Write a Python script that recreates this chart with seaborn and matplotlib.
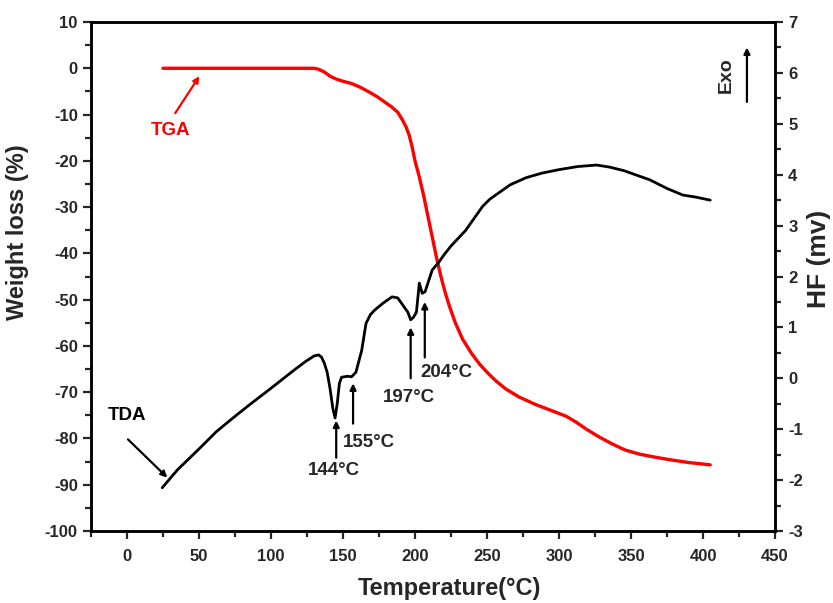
import matplotlib
matplotlib.use("Agg")
import matplotlib.pyplot as plt
from matplotlib.ticker import AutoMinorLocator
import seaborn as sns
import pandas as pd

# TGA data (weight loss %)
tga_T = [25, 130, 133, 137, 141, 145, 150, 156, 162, 168, 174, 179, 184, 188, 191,
         194, 196, 198, 200, 203, 206, 209, 212, 215, 218, 221, 224, 228, 233, 239,
         245, 251, 256, 263, 272, 284, 295, 305, 312, 319, 328, 337, 346, 356, 366,
         377, 390, 405]
tga_W = [0, 0, -0.2, -0.8, -1.7, -2.3, -2.8, -3.3, -4.1, -5.1, -6.2, -7.3, -8.4, -9.5, -11,
         -12.8, -14.5, -17, -20, -23.5, -27.5, -32, -36.5, -41, -45, -48.5, -51.5, -55, -58.5, -61.5,
         -64, -66, -67.5, -69.3, -71, -72.7, -74, -75.2, -76.5, -78, -79.7, -81.2, -82.5, -83.4, -84,
         -84.6, -85.2, -85.7]

# TDA data (heat flow, mV)
hf_T = [24.5, 35, 51, 62, 74, 86, 98, 107, 116, 124, 130, 133, 135, 137, 139,
        141, 143, 144.5, 146, 147.5, 149, 153, 156, 159, 163, 166, 169, 172, 178,
        184, 188, 190, 193, 195, 197, 199, 201, 203, 205, 207, 212, 216.5, 220,
        225, 230, 235, 240, 247, 252, 258, 266, 277, 288, 300, 313, 326, 335,
        345, 354, 363, 375, 386, 395, 405]
hf_V = [-2.15, -1.8, -1.36, -1.05, -0.77, -0.5, -0.24, -0.04, 0.16, 0.33, 0.44, 0.46, 0.42, 0.3, 0.12,
        -0.2, -0.6, -0.78, -0.5, -0.1, 0.02, 0.04, 0.03, 0.12, 0.55, 1.08, 1.25, 1.34, 1.48,
        1.6, 1.58, 1.5, 1.38, 1.3, 1.15, 1.2, 1.3, 1.87, 1.67, 1.7, 2.13, 2.28, 2.42,
        2.6, 2.75, 2.9, 3.1, 3.38, 3.52, 3.64, 3.8, 3.94, 4.03, 4.1, 4.16, 4.19, 4.15,
        4.08, 3.99, 3.9, 3.73, 3.6, 3.56, 3.5]

x_ticks = [0, 50, 100, 150, 200, 250, 300, 350, 400, 450]
left_ticks = list(range(-100, 11, 10))
right_ticks = list(range(-3, 8))

peak_labels = ["144°C", "155°C", "197°C", "204°C"]

sns.set_style("ticks")
plt.rcParams["font.family"] = ["Liberation Sans", "DejaVu Sans"]
plt.rcParams["font.weight"] = "bold"
plt.rcParams["axes.unicode_minus"] = False

fig = plt.figure(figsize=(8.33, 6.03), dpi=100)
ax = fig.add_axes([0.1092, 0.1194, 0.8212, 0.8441])
ax2 = ax.twinx()

tga_df = pd.DataFrame({"T": tga_T, "W": tga_W})
hf_df = pd.DataFrame({"T": hf_T, "HF": hf_V})

sns.lineplot(data=tga_df, x="T", y="W", ax=ax, color="#ff0000", lw=2.4, sort=False)
sns.lineplot(data=hf_df, x="T", y="HF", ax=ax2, color="black", lw=2.0, sort=False)

ax.set_xlim(-25, 450)
ax.set_ylim(-100, 10)
ax2.set_ylim(-3, 7)
ax.set_xticks(x_ticks)
ax.set_yticks(left_ticks)
ax2.set_yticks(right_ticks)
ax.xaxis.set_minor_locator(AutoMinorLocator(2))
ax.yaxis.set_minor_locator(AutoMinorLocator(2))
ax2.yaxis.set_minor_locator(AutoMinorLocator(2))

for a in (ax, ax2):
    for s in a.spines.values():
        s.set_visible(True)
        s.set_linewidth(1.8)
        s.set_color("black")
    a.tick_params(which="major", length=6, width=1.6, labelsize=12, direction="out")
    a.tick_params(which="minor", length=4, width=1.6, direction="out")
ax.tick_params(axis="x", pad=7)
for lab in ax.get_xticklabels() + ax.get_yticklabels() + ax2.get_yticklabels():
    lab.set_fontweight("bold")

ax.set_xlabel("Temperature(°C)", fontsize=17, fontweight="bold")
ax.set_ylabel("Weight loss (%)", fontsize=17, fontweight="bold")
ax2.set_ylabel("HF (mv)", fontsize=19, fontweight="bold")
ax.xaxis.set_label_coords(0.524, -0.090)
ax.yaxis.set_label_coords(-0.090, 0.587)
ax2.yaxis.set_label_coords(1.047, 0.535)

arrow = dict(arrowstyle="-|>", color="black", lw=1.6, mutation_scale=9, shrinkA=0, shrinkB=0)
red_arrow = dict(arrowstyle="-|>", color="#ff0000", lw=1.6, mutation_scale=9, shrinkA=0, shrinkB=0)

# TGA label
ax.annotate("", xy=(50.3, -1.7), xytext=(33.5, -9.7), arrowprops=red_arrow)
ax.text(30, -13.4, "TGA", color="#ff0000", fontsize=13.5, fontweight="bold",
        ha="center", va="center")

# TDA label
ax.text(0, -75, "TDA", color="black", fontsize=13.5, fontweight="bold",
        ha="center", va="center")
ax2.annotate("", xy=(28, -1.95), xytext=(0.7, -1.2), arrowprops=arrow)

# Peak arrows
peak_heads = [(145.3, -0.83), (157, -0.1), (197, 1.0), (206.8, 1.5)]
peak_tails = [(145.3, -1.56), (157, -0.89), (197, 0.0), (206.8, 0.41)]
peak_text = [(144, -1.81), (168, -1.26), (195.6, -0.37), (222, 0.12)]
for lab, h, t, p in zip(peak_labels, peak_heads, peak_tails, peak_text):
    ax2.annotate("", xy=h, xytext=t, arrowprops=arrow)
    ax2.text(p[0], p[1], lab, fontsize=13.5, fontweight="bold", ha="center", va="center")

# Exo
ax2.text(415.8, 5.96, "Exo", rotation=90, fontsize=14, fontweight="bold",
         ha="center", va="center")
ax2.annotate("", xy=(430.5, 6.5), xytext=(430.5, 5.43), arrowprops=arrow)

fig.savefig("out.png", dpi=100)
